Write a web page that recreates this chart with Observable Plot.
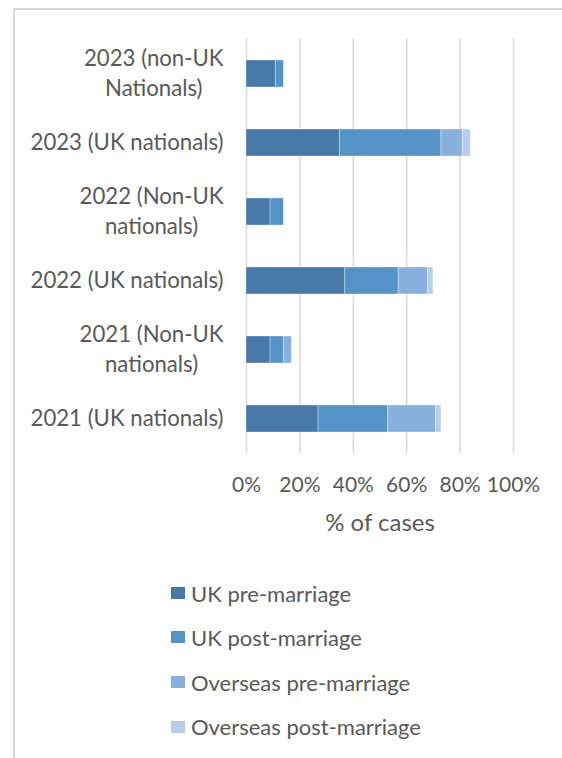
<!DOCTYPE html>
<html>
<head>
<meta charset="utf-8">
<script src="https://cdn.jsdelivr.net/npm/d3@7"></script>
<script src="https://cdn.jsdelivr.net/npm/@observablehq/plot@0.6"></script>
<style>
  html, body { margin: 0; padding: 0; background: #fff; }
  body { width: 562px; height: 758px; position: relative; overflow: hidden; font-family: Lato, "Open Sans", sans-serif; color: #595959; }
  #frame { position: absolute; left: 13px; top: 8px; width: 700px; height: 800px; border-left: 2px solid #d9d9d9; border-top: 2px solid #d9d9d9; }
  #chart { position: absolute; left: 0; top: 0; }
  #legend { position: absolute; left: 171px; top: 0; }
  .item { position: absolute; left: 0; white-space: nowrap; display: flex; align-items: center; font-size: 22px; }
  .sw { width: 14px; height: 12px; margin-right: 6px; display: inline-block; }
</style>
</head>
<body>
<div id="frame"></div>
<div id="chart"></div>
<div id="legend"></div>
<script>
const categories = [
  "2023 (non-UK\nNationals)",
  "2023 (UK nationals)",
  "2022 (Non-UK\nnationals)",
  "2022 (UK nationals)",
  "2021 (Non-UK\nnationals)",
  "2021 (UK nationals)"
];
const series = ["UK pre-marriage", "UK post-marriage", "Overseas pre-marriage", "Overseas post-marriage"];
const colors = ["#4878a8", "#5592c8", "#88b0dd", "#b8cde9"];
// values in % of cases, per category (same order as categories), per series
const ukPre      = [11, 35, 9, 37, 9, 27];
const ukPost     = [3, 38, 5, 20, 5, 26];
const overseasPre  = [0, 8, 0, 11, 3, 18];
const overseasPost = [0, 3, 0, 2, 0, 2];
const xTicks = [0, 20, 40, 60, 80, 100];
const xLabel = "% of cases";

const seriesValues = [ukPre, ukPost, overseasPre, overseasPost];
const data = [];
categories.forEach((c, i) => {
  series.forEach((s, j) => {
    data.push({category: c, series: s, value: seriesValues[j][i]});
  });
});

const textColor = "#595959";
const chart = Plot.plot({
  width: 562,
  height: 560,
  marginLeft: 246,
  marginRight: 49,
  marginTop: 38,
  marginBottom: 107,
  style: {fontFamily: "Lato, 'Open Sans', sans-serif", fontSize: "21px", color: textColor, background: "transparent"},
  x: {domain: [0, 100], axis: null},
  y: {domain: categories, paddingInner: 0.61, paddingOuter: 0.305, axis: null},
  color: {domain: series, range: colors},
  marks: [
    Plot.ruleX(xTicks, {x: d => d, stroke: "#d9d9d9", strokeWidth: 1.5}),
    Plot.barX(data, Plot.stackX({x: "value", y: "category", fill: "series", order: series, stroke: "white", strokeOpacity: 0.35, strokeWidth: 1})),
    Plot.text(xTicks, {x: d => d, text: d => d + "%", frameAnchor: "bottom", lineAnchor: "middle", dy: 32, fill: textColor, fontSize: 21}),
    Plot.text([xLabel], {frameAnchor: "bottom", lineAnchor: "middle", dy: 70, fill: textColor, fontSize: 24}),
    Plot.text(categories, {y: d => d, text: d => d, frameAnchor: "left", dx: -23, dy: -3, textAnchor: "end", lineAnchor: "middle", lineHeight: 1.36, fill: textColor, fontSize: 22.2, ariaDescription: "ylabels"})
  ]
});
document.getElementById("chart").appendChild(chart);

// Excel-style wrapped labels: block right-aligned, lines centred within the block
chart.querySelectorAll('g[aria-description="ylabels"] text').forEach(t => {
  const spans = t.querySelectorAll("tspan");
  if (spans.length > 1) {
    let maxW = 0;
    spans.forEach(s => { maxW = Math.max(maxW, s.getComputedTextLength()); });
    t.setAttribute("text-anchor", "middle");
    spans.forEach(s => s.setAttribute("x", -maxW / 2));
  }
});

const legendTops = [593, 637, 682, 726.5];
const legend = document.getElementById("legend");
series.forEach((s, i) => {
  const item = document.createElement("div");
  item.className = "item";
  item.style.top = (legendTops[i] - 14) + "px";
  item.style.height = "28px";
  const sw = document.createElement("span");
  sw.className = "sw";
  sw.style.background = colors[i];
  const t = document.createElement("span");
  t.textContent = s;
  item.appendChild(sw);
  item.appendChild(t);
  legend.appendChild(item);
});
</script>
</body>
</html>
